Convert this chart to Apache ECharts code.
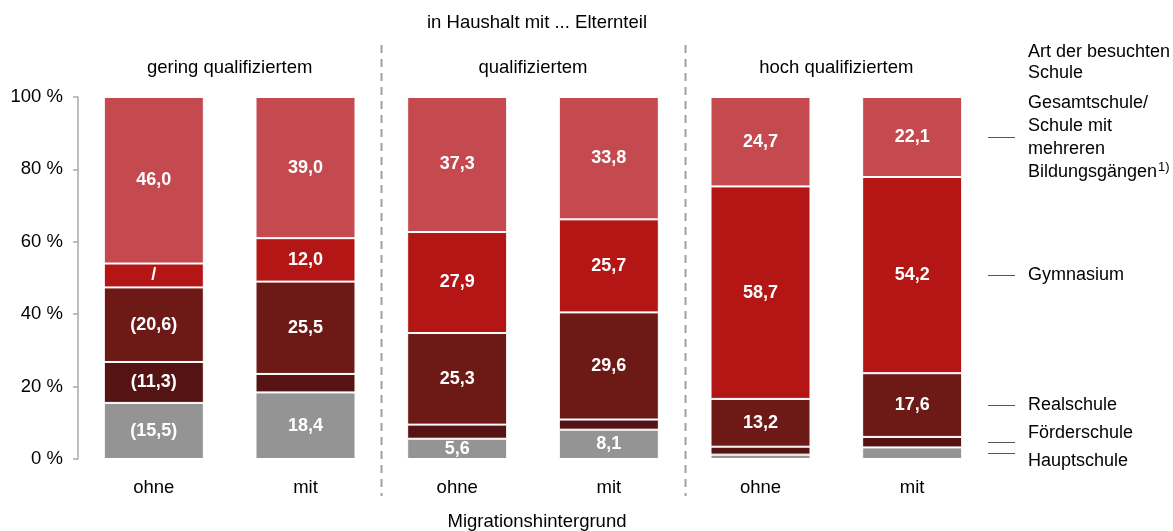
<!DOCTYPE html>
<html>
<head>
<meta charset="utf-8">
<script src="https://cdn.jsdelivr.net/npm/echarts@6/dist/echarts.min.js"></script>
<style>html,body{margin:0;padding:0;background:#fff}#c{width:1173px;height:531px}</style>
</head>
<body>
<div id="c"></div>
<script>
var categories = ['ohne', 'mit', 'ohne', 'mit', 'ohne', 'mit'];
var groups = ['gering qualifiziertem', 'qualifiziertem', 'hoch qualifiziertem'];
var yTicks = [0, 20, 40, 60, 80, 100];

var hauptschule = [15.5, 18.4, 5.6, 8.1, 1.2, 3.2];
var foerderschule = [11.3, 5.1, 3.9, 2.8, 2.2, 2.9];
var realschule = [20.6, 25.5, 25.3, 29.6, 13.2, 17.6];
var gymnasium = [6.6, 12.0, 27.9, 25.7, 58.7, 54.2];
var gesamtschule = [46.0, 39.0, 37.3, 33.8, 24.7, 22.1];

var hauptLbl = ['(15,5)', '18,4', '5,6', '8,1', '', ''];
var foerderLbl = ['(11,3)', '', '', '', '', ''];
var realLbl = ['(20,6)', '25,5', '25,3', '29,6', '13,2', '17,6'];
var gymLbl = ['/', '12,0', '27,9', '25,7', '58,7', '54,2'];
var gesamtLbl = ['46,0', '39,0', '37,3', '33,8', '24,7', '22,1'];

var seriesNames = ['Hauptschule', 'Förderschule', 'Realschule', 'Gymnasium', 'Gesamtschule/\nSchule mit\nmehreren\nBildungsgängen{sup|1)}'];
var seriesData = [hauptschule, foerderschule, realschule, gymnasium, gesamtschule];
var seriesLbl = [hauptLbl, foerderLbl, realLbl, gymLbl, gesamtLbl];
var colors = ['#949494', '#551313', '#6d1a16', '#b41616', '#c44a4f'];

var FONT = '"Liberation Sans", Arial, sans-serif';
var FS = 18.5;
var LFS = 18;

var chart = echarts.init(document.getElementById('c'), null, {renderer: 'canvas'});

var series = seriesData.map(function (d, i) {
  return {
    type: 'bar',
    name: 'S' + i,
    stack: 'all',
    data: d,
    barWidth: 100,
    itemStyle: {color: colors[i], borderColor: '#fff', borderWidth: 1},
    label: {
      show: true,
      position: 'inside',
      color: '#fff',
      fontWeight: 'bold',
      fontSize: 18,
      fontFamily: FONT,
      formatter: function (p) { return seriesLbl[i][p.dataIndex]; }
    },
    emphasis: {disabled: true},
    animation: false
  };
});

chart.setOption({
  animation: false,
  textStyle: {fontFamily: FONT},
  grid: {left: 78, width: 910, top: 97, bottom: 72},
  title: [
    {text: 'in Haushalt mit ... Elternteil', left: 532, top: 8, textAlign: 'center',
     textStyle: {fontSize: FS, fontWeight: 'normal', color: '#000', fontFamily: FONT}},
    {text: 'Migrationshintergrund', left: 532, top: 507, textAlign: 'center',
     textStyle: {fontSize: FS, fontWeight: 'normal', color: '#000', fontFamily: FONT}}
  ],
  xAxis: [
    {type: 'category', data: categories, position: 'bottom',
     axisLine: {show: false}, axisTick: {show: false},
     axisLabel: {fontSize: FS, color: '#000', margin: 19, fontFamily: FONT}},
    {type: 'category', data: groups, position: 'top',
     axisLine: {show: false}, axisTick: {show: false},
     axisLabel: {fontSize: FS, color: '#000', margin: 20, fontFamily: FONT}}
  ],
  yAxis: {
    type: 'value', min: yTicks[0], max: yTicks[yTicks.length - 1], interval: 20,
    axisLine: {show: true, lineStyle: {color: '#aaa', width: 1.5}},
    axisTick: {show: true, length: 5, lineStyle: {color: '#aaa', width: 1.5}},
    splitLine: {show: false},
    axisLabel: {fontSize: FS, color: '#000', margin: 15, fontFamily: FONT,
                formatter: function (v) { return v + ' %'; }}
  },
  series: series.concat([{
    type: 'bar', xAxisIndex: 1, data: [0, 0, 0], silent: true
  }])
});

// decorations computed from scales
var gr = [];
var cx = categories.map(function (c, i) { return chart.convertToPixel({xAxisIndex: 0}, i); });
[1, 3].forEach(function (i) {
  var x = Math.round((cx[i] + cx[i + 1]) / 2) + 0.5;
  gr.push({type: 'line', shape: {x1: x, y1: 45, x2: x, y2: 496},
           style: {stroke: '#a0a0a0', lineWidth: 2, lineDash: [8, 6]}, silent: true});
});

// legend aligned to the last bar's segments
var last = categories.length - 1;
var cum = 0;
var legendX = 988, textX = 1028;
var textOffsets = [8, -9, 0, 0, 0];
seriesData.forEach(function (d, i) {
  var mid = cum + d[last] / 2;
  cum += d[last];
  var y = Math.round(chart.convertToPixel({yAxisIndex: 0}, mid)) + 0.5;
  gr.push({type: 'line', shape: {x1: legendX, y1: y, x2: legendX + 27, y2: y},
           style: {stroke: '#555', lineWidth: 1}, silent: true});
  gr.push({type: 'text', x: textX, y: y + textOffsets[i],
           style: {text: seriesNames[i], fill: '#000', font: LFS + 'px ' + FONT,
                   verticalAlign: 'middle', align: 'left', lineHeight: 23,
                   rich: {sup: {fontSize: 13, verticalAlign: 'top', lineHeight: 23, fontFamily: FONT, padding: [0, 0, 10, 1]}}},
           silent: true});
});
gr.push({type: 'text', x: textX, y: 63,
         style: {text: 'Art der besuchten\nSchule', fill: '#000', font: LFS + 'px ' + FONT,
                 verticalAlign: 'middle', align: 'left', lineHeight: 21}, silent: true});
chart.setOption({graphic: gr});
</script>
</body>
</html>
